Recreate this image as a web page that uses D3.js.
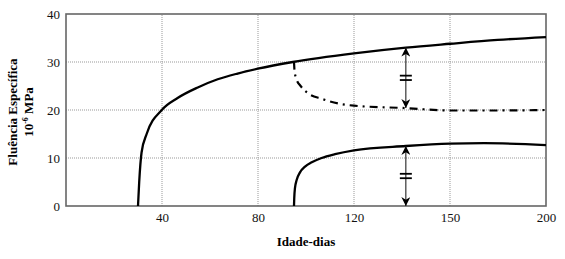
<!DOCTYPE html>
<html>
<head>
<meta charset="utf-8">
<script src="https://cdn.jsdelivr.net/npm/d3@7"></script>
<style>
  body { margin: 0; background: #fff; }
</style>
</head>
<body>
<div id="chart"></div>
<script>
// x axis: labelled positions are evenly spaced even though the values are not
var xTicks = [0, 40, 80, 120, 150, 200];
var xTickLabels = ["", "40", "80", "120", "150", "200"];
var yTicks = [0, 10, 20, 30, 40];

// upper solid curve (days, specific creep)
var upperDays = [30, 30.5, 31.5, 33.6, 39.9, 46.5, 54.9, 63.2, 71.5, 79.9, 94.5, 120, 136.2, 150, 174.8, 200];
var upperVals = [0, 5.0, 11.2, 15.0, 20.0, 22.5, 24.7, 26.4, 27.6, 28.6, 30.0, 31.8, 33.0, 33.8, 34.6, 35.2];

// dash-dot curve (branches off at 95 days)
var dashDays = [95, 95.2, 95.7, 97.9, 100.8, 106.7, 114, 120, 136, 150, 175, 200];
var dashVals = [30.1, 28.3, 26.9, 24.9, 23.5, 22.3, 21.3, 20.9, 20.4, 19.9, 19.9, 20];

// lower solid curve
var lowerDays = [95, 95.1, 95.4, 96.1, 97.5, 99.6, 102.4, 106.5, 112.1, 120, 136.2, 150, 167.7, 200];
var lowerVals = [0, 1.6, 3.7, 5.4, 7.0, 8.2, 9.1, 10.0, 10.8, 11.6, 12.5, 13.0, 13.1, 12.7];

// double arrows at 136 days
var arrowDay = 136.2;
var arrowSpans = [[20.4, 33.0], [0, 12.5]];

var width = 565, height = 259;
var margin = {top: 14, right: 19, bottom: 53, left: 66};
var plotW = width - margin.left - margin.right;
var plotH = height - margin.top - margin.bottom;
var serif = "Liberation Serif, DejaVu Serif, serif";

var svg = d3.select("#chart").append("svg")
    .attr("width", width)
    .attr("height", height)
    .attr("font-family", serif);

var step = plotW / (xTicks.length - 1);
var x = d3.scaleLinear()
    .domain(xTicks)
    .range(xTicks.map(function(d, i) { return margin.left + i * step; }));
var y = d3.scaleLinear()
    .domain([0, 40])
    .range([margin.top + plotH, margin.top]);

// grid
svg.append("g")
    .selectAll("line")
    .data(xTicks.slice(1, -1))
    .enter().append("line")
    .attr("x1", function(d) { return x(d); })
    .attr("x2", function(d) { return x(d); })
    .attr("y1", y(0)).attr("y2", y(40))
    .attr("stroke", "#999").attr("stroke-width", 1)
    .attr("stroke-dasharray", "1,1");
svg.append("g")
    .selectAll("line")
    .data(yTicks.slice(1, -1))
    .enter().append("line")
    .attr("y1", function(d) { return y(d); })
    .attr("y2", function(d) { return y(d); })
    .attr("x1", x(0)).attr("x2", x(200))
    .attr("stroke", "#999").attr("stroke-width", 1)
    .attr("stroke-dasharray", "1,1");

// frame
svg.append("rect")
    .attr("x", x(0)).attr("y", y(40))
    .attr("width", x(200) - x(0)).attr("height", y(0) - y(40))
    .attr("fill", "none").attr("stroke", "#666").attr("stroke-width", 1.6);

// axes (labels only, frame drawn above)
var xAxis = svg.append("g")
    .attr("transform", "translate(0," + y(0) + ")")
    .call(d3.axisBottom(x).tickValues(xTicks).tickSize(0).tickPadding(7)
        .tickFormat(function(d, i) { return xTickLabels[i]; }))
    .attr("font-family", serif).attr("font-size", 13);
xAxis.select(".domain").remove();
xAxis.selectAll("text").attr("fill", "#111");

var yAxis = svg.append("g")
    .attr("transform", "translate(" + x(0) + ",0)")
    .call(d3.axisLeft(y).tickValues(yTicks).tickSize(0).tickPadding(6))
    .attr("font-family", serif).attr("font-size", 13);
yAxis.select(".domain").remove();
yAxis.selectAll("text").attr("fill", "#111");

// curves
var line = d3.line()
    .x(function(d) { return x(d[0]); })
    .y(function(d) { return y(d[1]); })
    .curve(d3.curveMonotoneX);

svg.append("path")
    .datum(d3.zip(upperDays, upperVals))
    .attr("d", line)
    .attr("fill", "none").attr("stroke", "#000").attr("stroke-width", 2.3);

svg.append("path")
    .datum(d3.zip(lowerDays, lowerVals))
    .attr("d", line)
    .attr("fill", "none").attr("stroke", "#000").attr("stroke-width", 2.3);

svg.append("path")
    .datum(d3.zip(dashDays, dashVals))
    .attr("d", line)
    .attr("fill", "none").attr("stroke", "#000").attr("stroke-width", 2.2)
    .attr("stroke-dasharray", "8,5,2,5");

// double arrows with "=" marks
svg.append("defs").append("marker")
    .attr("id", "head")
    .attr("viewBox", "0 0 10 10")
    .attr("refX", 10).attr("refY", 5)
    .attr("markerWidth", 9).attr("markerHeight", 9)
    .attr("markerUnits", "userSpaceOnUse")
    .attr("orient", "auto-start-reverse")
    .append("path")
    .attr("d", "M0,0 L10,5 L0,10 L3,5 Z")
    .attr("fill", "#000");

arrowSpans.forEach(function(s) {
  var ax = x(arrowDay);
  svg.append("line")
    .attr("x1", ax).attr("x2", ax)
    .attr("y1", y(s[0])).attr("y2", y(s[1]))
    .attr("stroke", "#222").attr("stroke-width", 1.1)
    .attr("marker-start", "url(#head)")
    .attr("marker-end", "url(#head)");
  var mid = y((s[0] + s[1]) / 2);
  [-2.2, 2.2].forEach(function(o) {
    svg.append("line")
      .attr("x1", ax - 6).attr("x2", ax + 6)
      .attr("y1", mid + o).attr("y2", mid + o)
      .attr("stroke", "#000").attr("stroke-width", 1.8);
  });
});

// axis titles
svg.append("text")
    .attr("x", x(0) + plotW / 2).attr("y", 246)
    .attr("text-anchor", "middle")
    .attr("font-size", 13).attr("font-weight", "bold")
    .text("Idade-dias");

var yl = svg.append("g")
    .attr("transform", "translate(17,112) rotate(-90)");
yl.append("text")
    .attr("text-anchor", "middle")
    .attr("font-size", 13).attr("font-weight", "bold")
    .text("Fluência Específica");
var t2 = yl.append("text")
    .attr("y", 16)
    .attr("text-anchor", "middle")
    .attr("font-size", 13).attr("font-weight", "bold");
t2.append("tspan").text("10");
t2.append("tspan").attr("dy", -5).attr("font-size", 8).text("-6");
t2.append("tspan").attr("dy", 5).text(" MPa");
</script>
</body>
</html>
